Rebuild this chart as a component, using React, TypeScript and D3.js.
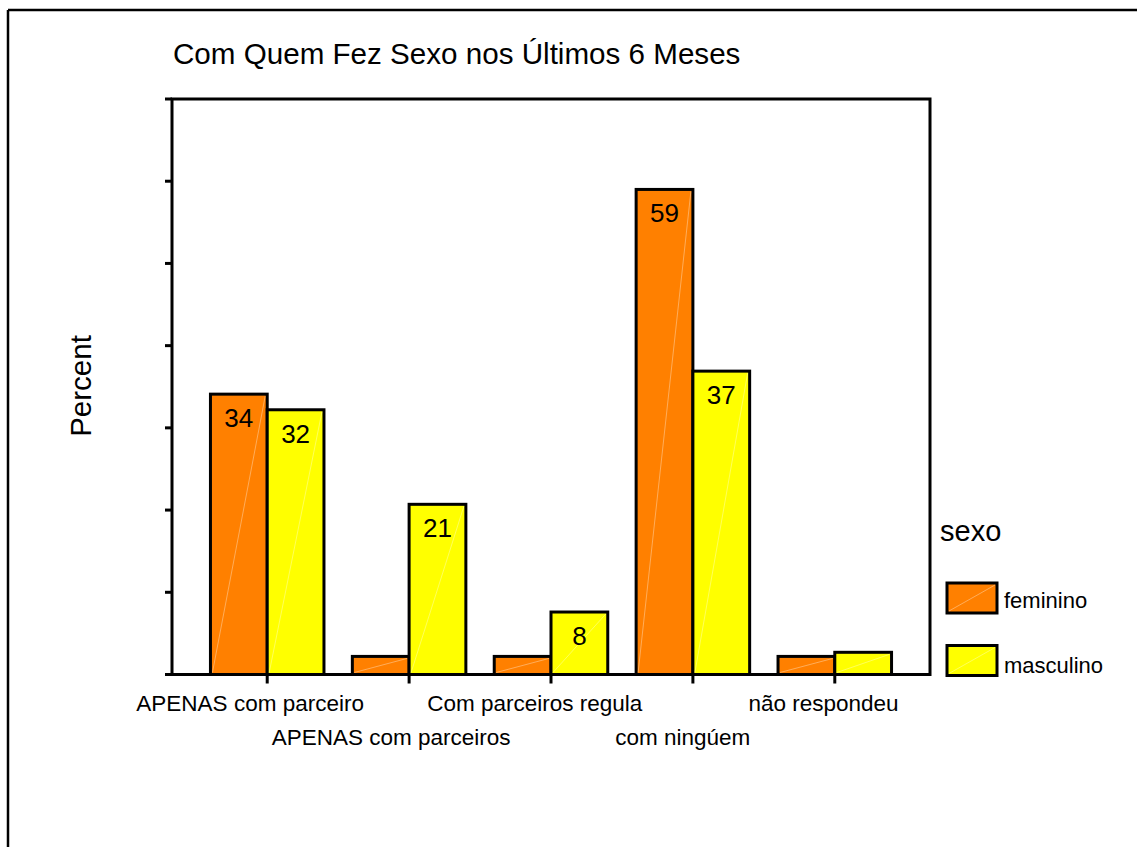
import * as d3 from 'd3';

const categories = [
    'APENAS com parceiro',
    'APENAS com parceiros',
    'Com parceiros regula',
    'com ningúem',
    'não respondeu',
];
const seriesNames = ['feminino', 'masculino'];
const feminino = [34.1, 2.2, 2.2, 59.0, 2.2];
const masculino = [32.2, 20.7, 7.6, 36.9, 2.7];
const seriesColors = ['#FF8000', '#FFFF00'];

const title = 'Com Quem Fez Sexo nos Últimos 6 Meses';
const yLabel = 'Percent';
const legendTitle = 'sexo';

const width = 1137;
const height = 847;
const marginLeft = 172;
const marginRight = 207;
const marginTop = 99;
const marginBottom = 172.5;
const font = '"Liberation Sans", Arial, sans-serif';

const App = () => {
    const x = d3.scalePoint<string>()
        .domain(categories)
        .range([marginLeft, width - marginRight])
        .padding(0.671);
    const barWidth = x.step() * 0.4;

    const y = d3.scaleLinear()
        .domain([0, 70])
        .range([height - marginBottom, marginTop]);

    const values = [feminino, masculino];

    // bars: feminino left of the tick, masculino right of it
    const bars = categories.flatMap((cat, i) =>
        values.map((vals, s) => {
            const x0 = (x(cat) || 0) + (s === 0 ? -barWidth : 0);
            const y0 = y(vals[i]);
            const y1 = y(0);
            return (
                <g key={`${cat}-${s}`}>
                    <rect x={x0} y={y0} width={barWidth} height={y1 - y0}
                        fill={seriesColors[s]} stroke="black" strokeWidth={3} />
                    <line x1={x0 + 2} y1={y1 - 2} x2={x0 + barWidth - 2} y2={y0 + 2}
                        stroke="white" strokeOpacity={0.35} strokeWidth={1} />
                    {vals[i] >= 5 && (
                        <text x={x0 + barWidth / 2} y={y0 + 33} textAnchor="middle"
                            style={{ font: `26px ${font}`, fill: 'black' }}>
                            {d3.format('.0f')(vals[i])}
                        </text>
                    )}
                </g>
            );
        })
    );

    const yTicks = y.ticks(7).map((t) => (
        <line key={t} x1={marginLeft - 7} x2={marginLeft} y1={y(t)} y2={y(t)}
            stroke="black" strokeWidth={3} />
    ));

    const xTicks = categories.map((cat, i) => (
        <g key={cat} transform={`translate(${x(cat)}, 0)`}>
            <line y1={y(0)} y2={y(0) + 9} stroke="black" strokeWidth={3} />
            <text y={i % 2 === 0 ? 711 : 745} textAnchor="middle"
                style={{ font: `22.5px ${font}`, fill: 'black', transformBox: 'fill-box', transform: 'translateX(-7.5%)' }}>
                {cat}
            </text>
        </g>
    ));

    const legend = seriesNames.map((name, s) => {
        const ly = 583 + s * 62.5;
        return (
            <g key={name}>
                <rect x={947} y={ly} width={50} height={30} fill={seriesColors[s]} stroke="black" strokeWidth={3} />
                <line x1={949} y1={ly + 28} x2={995} y2={ly + 2} stroke="white" strokeOpacity={0.35} strokeWidth={1} />
                <text x={1004} y={ly + 25 + s * 2.5} style={{ font: `22px ${font}`, fill: 'black' }}>{name}</text>
            </g>
        );
    });

    return (
        <svg width={width} height={height} style={{ position: 'absolute', left: 0, top: 0, background: 'white' }}>
            {/* outer frame */}
            <line x1={8} y1={10} x2={width} y2={10} stroke="black" strokeWidth={2.5} />
            <line x1={8} y1={10} x2={8} y2={height} stroke="black" strokeWidth={2.5} />

            <text x={173} y={63.5} style={{ font: `29.6px ${font}`, fill: 'black' }}>{title}</text>

            <text transform={`translate(91, 386) rotate(-90)`} textAnchor="middle"
                style={{ font: `29.5px ${font}`, fill: 'black' }}>{yLabel}</text>

            {bars}

            {/* plot frame */}
            <rect x={marginLeft} y={marginTop} width={width - marginLeft - marginRight}
                height={y(0) - marginTop} fill="none" stroke="black" strokeWidth={3} />
            {yTicks}
            {xTicks}

            <text x={940} y={541} style={{ font: `29px ${font}`, fill: 'black' }}>{legendTitle}</text>
            {legend}
        </svg>
    );
};

export default App;
